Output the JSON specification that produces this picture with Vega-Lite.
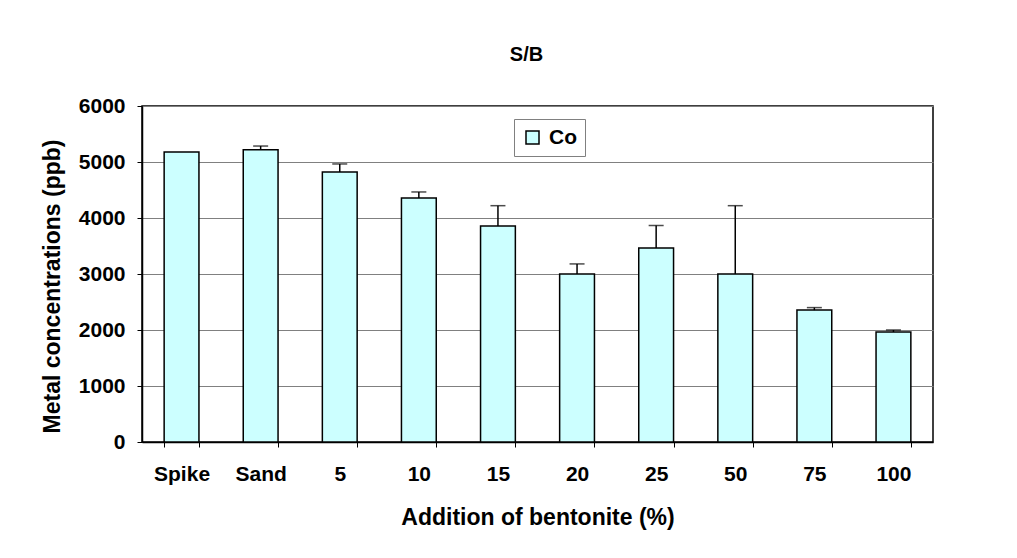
{
  "$schema": "https://vega.github.io/schema/vega-lite/v6.json",
  "width": 791,
  "height": 336,
  "autosize": {"type": "none"},
  "padding": {"left": 142, "top": 106, "right": 84, "bottom": 116},
  "background": "white",
  "config": {
    "font": "Liberation Sans",
    "view": {"stroke": "black", "strokeWidth": 1.5},
    "axis": {"labelFont": "Liberation Sans", "titleFont": "Liberation Sans"}
  },
  "title": {
    "text": "S/B",
    "font": "Liberation Sans",
    "fontSize": 20,
    "fontWeight": "bold",
    "color": "black",
    "anchor": "middle",
    "frame": "group",
    "offset": 30,
    "dx": -11
  },
  "data": {
    "values": [
      {"cat": "Spike", "series": "Co", "value": 5180, "high": 5180},
      {"cat": "Sand", "series": "Co", "value": 5220, "high": 5285},
      {"cat": "5", "series": "Co", "value": 4820, "high": 4965},
      {"cat": "10", "series": "Co", "value": 4355, "high": 4465},
      {"cat": "15", "series": "Co", "value": 3855, "high": 4220},
      {"cat": "20", "series": "Co", "value": 3000, "high": 3180},
      {"cat": "25", "series": "Co", "value": 3465, "high": 3865},
      {"cat": "50", "series": "Co", "value": 3000, "high": 4220},
      {"cat": "75", "series": "Co", "value": 2355, "high": 2400},
      {"cat": "100", "series": "Co", "value": 1965, "high": 2000}
    ]
  },
  "encoding": {
    "x": {
      "field": "cat",
      "type": "nominal",
      "sort": null,
      "scale": {"paddingInner": 0.56, "paddingOuter": 0.28},
      "axis": {
        "title": "Addition of bentonite (%)",
        "titleFontSize": 23,
        "titleFontWeight": "bold",
        "titleColor": "black",
        "titlePadding": 22,
        "labelAngle": 0,
        "labelFontSize": 21,
        "labelFontWeight": "bold",
        "labelColor": "black",
        "labelPadding": 16,
        "tickSize": 5,
        "tickColor": "black",
        "tickBand": "extent",
        "domainColor": "black",
        "domainWidth": 1.5,
        "grid": false
      }
    }
  },
  "layer": [
    {
      "mark": {"type": "bar", "stroke": "black", "strokeWidth": 1.5},
      "encoding": {
        "y": {
          "field": "value",
          "type": "quantitative",
          "scale": {"domain": [0, 6000], "nice": false},
          "axis": {
            "title": "Metal concentrations (ppb)",
            "titleFontSize": 23,
            "titleFontWeight": "bold",
            "titleColor": "black",
            "titlePadding": 14,
            "titleY": 180,
            "values": [0, 1000, 2000, 3000, 4000, 5000, 6000],
            "format": "d",
            "labelFontSize": 21,
            "labelFontWeight": "bold",
            "labelColor": "black",
            "labelPadding": 12,
            "tickSize": 5,
            "tickColor": "black",
            "domainColor": "black",
            "domainWidth": 1.5,
            "gridColor": "#808080",
            "gridWidth": 1
          }
        },
        "fill": {
          "field": "series",
          "type": "nominal",
          "scale": {"range": ["#CCFFFF"]},
          "legend": {
            "title": null,
            "orient": "none",
            "legendX": 372,
            "legendY": 13,
            "symbolType": "square",
            "symbolSize": 169,
            "symbolStrokeColor": "black",
            "symbolStrokeWidth": 1.5,
            "labelFontSize": 21,
            "labelFontWeight": "bold",
            "labelColor": "black",
            "labelFont": "Liberation Sans",
            "labelOffset": 6,
            "strokeColor": "#808080",
            "fillColor": "white",
            "padding": 8
          }
        }
      }
    },
    {
      "transform": [{"filter": "datum.high > datum.value"}],
      "mark": {"type": "rule", "color": "black", "strokeWidth": 1.5},
      "encoding": {
        "y": {"field": "value", "type": "quantitative"},
        "y2": {"field": "high"}
      }
    },
    {
      "transform": [{"filter": "datum.high > datum.value"}],
      "mark": {"type": "tick", "color": "black", "size": 15, "thickness": 1.5},
      "encoding": {
        "y": {"field": "high", "type": "quantitative"}
      }
    }
  ]
}
